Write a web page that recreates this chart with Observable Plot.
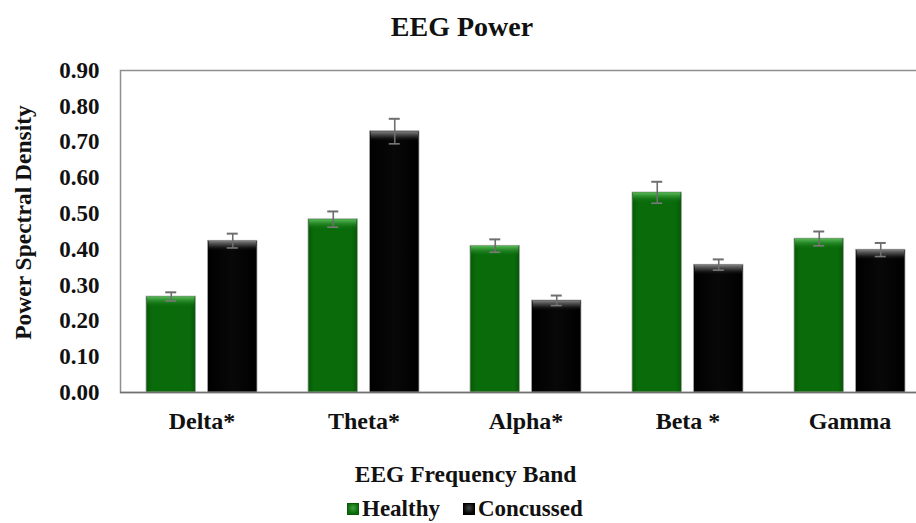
<!DOCTYPE html>
<html>
<head>
<meta charset="utf-8">
<script src="https://cdn.jsdelivr.net/npm/d3@7"></script>
<script src="https://cdn.jsdelivr.net/npm/@observablehq/plot@0.6"></script>
<style>
  html, body { margin: 0; padding: 0; background: #fff; }
  body { width: 916px; height: 523px; position: relative; overflow: hidden;
         font-family: "Liberation Serif", "Times New Roman", serif; font-weight: bold; color: #111; }
  #title { position: absolute; left: 0; width: 924px; top: 11px; line-height: 32px;
           text-align: center; font-size: 28px; }
  #chart { position: absolute; left: 0; top: 50px; }
  #xlabel { position: absolute; left: 0; width: 931px; top: 460px; line-height: 28px;
            text-align: center; font-size: 23.5px; }
  #legend { position: absolute; left: 347px; top: 497px; height: 24px; display: flex;
            align-items: center; font-size: 23px; line-height: 24px; }
  .sw { width: 12px; height: 12px; display: inline-block; margin-right: 3px; box-sizing: border-box; }
  .sw.h { background: radial-gradient(circle at 50% 40%, #3fa03f, #0a6a0a 70%); border: 1px solid #0a5a0a; }
  .sw.c { background: radial-gradient(circle at 50% 40%, #444, #050505 70%); border: 1px solid #000; }
  .item { display: flex; align-items: center; }
</style>
</head>
<body>
<div id="title">EEG Power</div>
<div id="chart"></div>
<div id="xlabel">EEG Frequency Band</div>
<div id="legend">
  <span class="item"><span class="sw h"></span>Healthy</span>
  <span class="item" style="margin-left:23px"><span class="sw c"></span>Concussed</span>
</div>
<script>
// EEG frequency bands and the two participant groups
const bands = ["Delta*", "Theta*", "Alpha*", "Beta *", "Gamma"];
const groups = ["Healthy", "Concussed"];

// Mean power spectral density per band
const healthy = [0.268, 0.484, 0.410, 0.559, 0.430];
const concussed = [0.424, 0.730, 0.257, 0.357, 0.399];

// Standard error per band
const healthyErr = [0.012, 0.022, 0.018, 0.030, 0.020];
const concussedErr = [0.020, 0.035, 0.014, 0.015, 0.019];

// Y-axis tick values
const yTicks = [0, 0.1, 0.2, 0.3, 0.4, 0.5, 0.6, 0.7, 0.8, 0.9];

const rowsFor = (group, values, errs) =>
  bands.map((band, i) => ({band, group, value: values[i], lo: values[i] - errs[i], hi: values[i] + errs[i]}));
const healthyRows = rowsFor(groups[0], healthy, healthyErr);
const concussedRows = rowsFor(groups[1], concussed, concussedErr);

// Geometry of the paired bars inside each band
const bandWidth = 111, barWidth = 49.5, capWidth = 11;
const gapInset = bandWidth - barWidth;
const barShift = (bandWidth - barWidth) / 2;
const capNear = barWidth / 2 - capWidth / 2;
const capFar = bandWidth - barWidth / 2 - capWidth / 2;

function seriesMarks(rows, fill, shine, side) {
  const left = side < 0;
  return [
    Plot.barY(rows, {
      x: "band", y: "value", fill,
      stroke: "#a8a8a8", strokeWidth: 0.8,
      insetLeft: left ? 0 : gapInset, insetRight: left ? gapInset : 0
    }),
    // bevelled highlight along the top edge of each bar
    Plot.barY(rows, {
      x: "band", y1: "value", y2: "value", fill: shine,
      insetTop: 0.5, insetBottom: -11,
      insetLeft: (left ? 0 : gapInset) + 1, insetRight: (left ? gapInset : 0) + 1
    }),
    Plot.ruleX(rows, {x: "band", y1: "lo", y2: "hi", dx: side * barShift, stroke: "#6e6e6e", strokeWidth: 1.6}),
    Plot.tickY(rows, {x: "band", y: "hi", stroke: "#6e6e6e", strokeWidth: 2,
      insetLeft: left ? capNear : capFar, insetRight: left ? capFar : capNear}),
    Plot.tickY(rows, {x: "band", y: "lo", stroke: "#7a7a7a", strokeWidth: 1.6,
      insetLeft: left ? capNear : capFar, insetRight: left ? capFar : capNear})
  ];
}

const chart = Plot.plot({
  width: 916,
  height: 392,
  marginLeft: 120,
  marginRight: -6,
  marginTop: 20,
  marginBottom: 50,
  style: {fontFamily: "'Liberation Serif', 'Times New Roman', serif", fontWeight: "bold", fontSize: "23px", color: "#111"},
  x: {domain: bands, range: [120, 930], paddingInner: 0.315, paddingOuter: 0.1575, label: null},
  y: {domain: [0, 0.9], label: null},
  marks: [
    Plot.frame({stroke: "#8f8f8f", strokeWidth: 1.5}),
    ...seriesMarks(healthyRows, "url(#greenBody)", "url(#greenShine)", -1),
    ...seriesMarks(concussedRows, "url(#blackBody)", "url(#blackShine)", 1),
    Plot.ruleY([0], {stroke: "#707070", strokeWidth: 1.5}),
    Plot.axisY({ticks: yTicks, tickFormat: d3.format(".2f"), tickSize: 0, tickPadding: 21, fontSize: 23, label: null}),
    Plot.axisX({tickSize: 0, tickPadding: 19, fontSize: 24, label: null}),
    Plot.text(["Power Spectral Density"], {
      frameAnchor: "left", textAnchor: "middle", dx: -97, dy: -9, rotate: -90, fontSize: 23.5, fill: "#111"
    })
  ]
});

// Gradients used by the bars
const defs = `
<defs>
  <linearGradient id="greenBody" x1="0" x2="1" y1="0" y2="0">
    <stop offset="0" stop-color="#065806"/>
    <stop offset="0.12" stop-color="#0a6b0a"/>
    <stop offset="0.88" stop-color="#0a6b0a"/>
    <stop offset="1" stop-color="#065806"/>
  </linearGradient>
  <linearGradient id="blackBody" x1="0" x2="1" y1="0" y2="0">
    <stop offset="0" stop-color="#000"/>
    <stop offset="0.5" stop-color="#080808"/>
    <stop offset="1" stop-color="#000"/>
  </linearGradient>
  <linearGradient id="greenShine" x1="0" x2="0" y1="0" y2="1">
    <stop offset="0" stop-color="#5cc05c" stop-opacity="0.95"/>
    <stop offset="0.45" stop-color="#2e8f2e" stop-opacity="0.7"/>
    <stop offset="1" stop-color="#0a6b0a" stop-opacity="0"/>
  </linearGradient>
  <linearGradient id="blackShine" x1="0" x2="0" y1="0" y2="1">
    <stop offset="0" stop-color="#8a8a8a" stop-opacity="0.95"/>
    <stop offset="0.45" stop-color="#4a4a4a" stop-opacity="0.7"/>
    <stop offset="1" stop-color="#000" stop-opacity="0"/>
  </linearGradient>
</defs>`;
chart.insertAdjacentHTML("afterbegin", defs);
chart.style.overflow = "visible";
document.getElementById("chart").appendChild(chart);
</script>
</body>
</html>
